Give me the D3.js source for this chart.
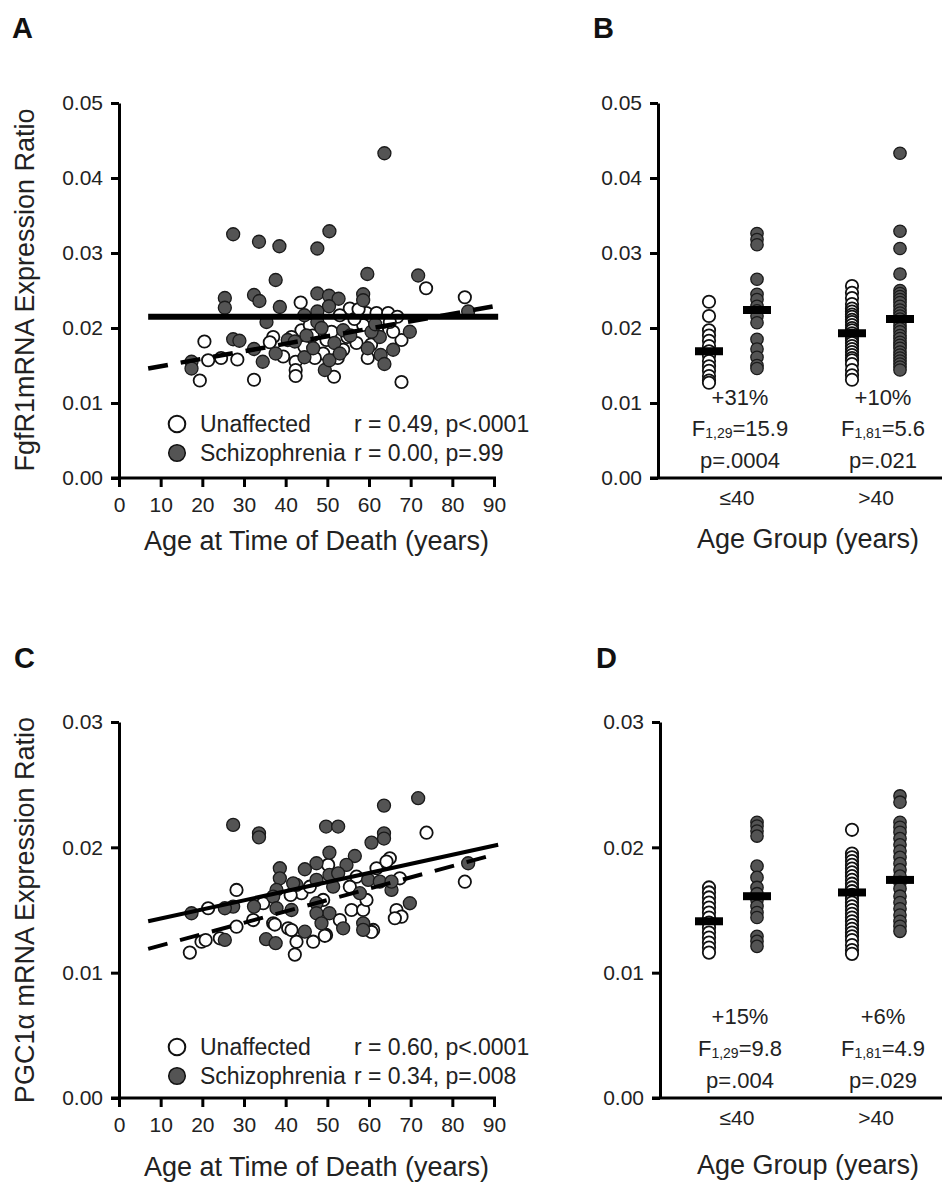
<!DOCTYPE html>
<html><head><meta charset="utf-8">
<script src="https://cdn.jsdelivr.net/npm/d3@7"></script>
<style>
body{margin:0;background:#fff}
svg{display:block}
</style>
</head><body>
<svg id="chart" width="942" height="1186"></svg>
<script>
// ---------------- DATA ----------------
const ageTicks = [0,10,20,30,40,50,60,70,80,90];
const fgfTicks = [0,0.01,0.02,0.03,0.04,0.05];
const pgcTicks = [0,0.01,0.02,0.03];
const seriesNames = ["Unaffected","Schizophrenia"];
const groups = ["≤40", ">40"];

// Panel A: [age, FgfR1 ratio]
const fgfUnaffected = [[73.7,0.0253],[83.0,0.0241],[20.5,0.0182],[21.4,0.0157],[24.5,0.0160],[28.4,0.0158],[19.4,0.0130],[32.4,0.0131],[43.6,0.0234],[37.0,0.0188],[36.2,0.0181],[42.4,0.0155],[42.4,0.0144],[42.4,0.0136],[51.6,0.0135],[67.8,0.0128],[55.4,0.0226],[59.4,0.0220],[61.8,0.0220],[64.6,0.0220],[66.8,0.0215],[59.7,0.0160],[58.6,0.0204],[57.0,0.0180],[67.8,0.0184],[65.8,0.0195],[43.8,0.0197],[45.8,0.0204],[39.4,0.0162],[41.4,0.0188],[53.8,0.0171],[54.8,0.0188],[49.0,0.0166],[49.8,0.0184],[63.4,0.0208],[53.0,0.0217],[46.5,0.0190],[51.0,0.0195],[56.5,0.0212],[62.0,0.0195],[47.0,0.0160],[44.5,0.0175],[60.5,0.0178],[52.5,0.0160],[57.5,0.0225],[65.0,0.0208]];
const fgfSchizo = [[63.7,0.0433],[27.4,0.0325],[33.6,0.0315],[38.5,0.0309],[47.6,0.0306],[50.5,0.0329],[37.6,0.0264],[59.6,0.0272],[71.8,0.0270],[25.4,0.0240],[25.4,0.0227],[32.4,0.0244],[33.7,0.0236],[38.6,0.0228],[35.4,0.0208],[47.6,0.0246],[50.4,0.0243],[52.7,0.0239],[58.6,0.0245],[58.6,0.0237],[50.4,0.0229],[47.6,0.0222],[47.6,0.0208],[44.5,0.0217],[27.4,0.0185],[28.9,0.0183],[32.4,0.0172],[34.5,0.0155],[37.6,0.0166],[40.5,0.0184],[42.2,0.0182],[44.5,0.0161],[46.6,0.0173],[49.4,0.0144],[50.5,0.0157],[51.7,0.0180],[53.0,0.0166],[53.8,0.0197],[48.6,0.0200],[62.6,0.0188],[59.7,0.0173],[62.8,0.0164],[63.7,0.0152],[65.8,0.0171],[69.8,0.0195],[83.8,0.0222],[17.4,0.0155],[17.4,0.0146],[60.6,0.0195],[55.5,0.0190],[45.0,0.0190],[61.5,0.0205]];
const fgfFitUnaffected = [[7,0.0146],[91,0.0230]];
const fgfFitSchizo = [[7,0.0215],[91,0.0215]];
const fgfStats = ["r = 0.49, p<.0001","r = 0.00, p=.99"];

// Panel B: FgfR1 by age group
const fgfLowU = [0.0235,0.0216,0.0197,0.0190,0.0183,0.0176,0.0169,0.0163,0.0156,0.0149,0.0143,0.0136,0.0130,0.0127];
const fgfLowS = [0.0326,0.0318,0.0311,0.0265,0.0245,0.0238,0.0229,0.0223,0.0216,0.0207,0.0185,0.0172,0.0161,0.0150,0.0146];
const fgfHighU = [0.0256,0.0247,0.0240,0.0232,0.0226,0.0222,0.0218,0.0215,0.0211,0.0208,0.0204,0.0200,0.0197,0.0193,0.0190,0.0186,0.0183,0.0180,0.0176,0.0172,0.0168,0.0164,0.0160,0.0157,0.0152,0.0144,0.0137,0.0131];
const fgfHighS = [0.0433,0.0329,0.0306,0.0272,0.0250,0.0246,0.0242,0.0238,0.0234,0.0229,0.0224,0.0220,0.0216,0.0212,0.0208,0.0203,0.0199,0.0195,0.0190,0.0186,0.0181,0.0177,0.0173,0.0168,0.0164,0.0160,0.0156,0.0152,0.0148,0.0144];
const fgfMeansU = [0.0169,0.0193];
const fgfMeansS = [0.0224,0.0212];
const fgfPct = ["+31%","+10%"];
const fgfDf = ["1,29","1,81"];
const fgfF = ["15.9","5.6"];
const fgfP = ["p=.0004","p=.021"];

// Panel C: [age, PGC1a ratio]
const pgcUnaffected = [[73.8,0.02117],[83.0,0.01726],[65.0,0.01913],[67.4,0.01753],[66.6,0.0150],[67.8,0.01447],[66.2,0.01434],[28.2,0.0166],[21.4,0.01514],[19.8,0.01247],[17.0,0.0116],[28.2,0.01367],[24.2,0.01274],[32.2,0.0142],[37.0,0.01394],[40.6,0.01354],[42.6,0.01247],[46.6,0.01247],[49.7,0.01301],[53.0,0.0142],[55.8,0.0150],[58.6,0.0150],[61.0,0.01341],[34.6,0.01554],[43.8,0.01634],[50.2,0.0186],[57.0,0.01766],[61.8,0.01833],[64.2,0.01886],[55.4,0.01686],[45.8,0.01686],[41.2,0.0162],[49.0,0.0158],[59.4,0.0158],[42.2,0.01144],[49.4,0.01294],[60.6,0.01325],[41.4,0.0134],[37.4,0.01384],[20.8,0.0126]];
const pgcSchizo = [[71.8,0.02392],[63.6,0.02333],[27.4,0.02179],[33.6,0.02112],[33.6,0.0208],[49.7,0.02166],[52.6,0.02166],[63.6,0.02112],[63.6,0.0207],[60.6,0.02038],[83.8,0.01873],[50.5,0.01958],[56.6,0.01931],[54.6,0.0186],[47.4,0.01873],[44.6,0.01825],[38.6,0.01833],[38.6,0.01753],[42.6,0.017],[47.4,0.0174],[50.5,0.0178],[52.6,0.01793],[51.4,0.01686],[59.8,0.0174],[62.6,0.01726],[65.4,0.0166],[65.4,0.01726],[57.8,0.01634],[37.8,0.0166],[37.0,0.01607],[37.8,0.01514],[41.4,0.015],[47.4,0.01554],[50.5,0.01474],[47.4,0.01474],[32.4,0.01527],[27.4,0.01527],[25.4,0.01514],[17.4,0.01474],[69.8,0.01554],[48.6,0.01394],[53.8,0.01354],[58.6,0.01394],[58.6,0.01341],[44.6,0.01327],[35.3,0.01267],[37.6,0.01235],[25.4,0.01261],[41.8,0.01713]];
const pgcFitUnaffected = [[7,0.0119],[91,0.0195]];
const pgcFitSchizo = [[7,0.0141],[91,0.0202]];
const pgcStats = ["r = 0.60, p<.0001","r = 0.34, p=.008"];

// Panel D: PGC1a by age group
const pgcLowU = [0.0168,0.0164,0.0160,0.0156,0.0152,0.0148,0.0144,0.0140,0.0136,0.0132,0.0128,0.0124,0.0120,0.0116];
const pgcLowS = [0.0220,0.0217,0.0213,0.0209,0.0185,0.0176,0.0168,0.0163,0.0158,0.0153,0.0148,0.0144,0.0129,0.0125,0.0121];
const pgcHighU = [0.0214,0.0195,0.0192,0.0189,0.0186,0.0183,0.0180,0.0177,0.0174,0.0171,0.0168,0.0165,0.0162,0.0159,0.0156,0.0153,0.0150,0.0147,0.0144,0.0141,0.0138,0.0135,0.0132,0.0129,0.0126,0.0122,0.0118,0.0115];
const pgcHighS = [0.0241,0.0236,0.0220,0.0216,0.0212,0.0207,0.0202,0.0197,0.0192,0.0187,0.0182,0.0177,0.0172,0.0167,0.0161,0.0156,0.0151,0.0146,0.0141,0.0137,0.0133];
const pgcMeansU = [0.0141,0.0164];
const pgcMeansS = [0.0161,0.0174];
const pgcPct = ["+15%","+6%"];
const pgcDf = ["1,29","1,81"];
const pgcF = ["9.8","4.9"];
const pgcP = ["p=.004","p=.029"];

// ---------------- DRAWING ----------------
const FONT = '"Liberation Sans", Arial, Helvetica, sans-serif';
const TXT = "#222";
const DARK = "#545454";
const svg = d3.select("#chart").attr("font-family", FONT);

function styleAxis(g){
  g.select(".domain").attr("stroke","#000").attr("stroke-width",3);
  g.selectAll(".tick line").attr("stroke","#000").attr("stroke-width",3);
  g.selectAll(".tick text").attr("font-size",21).attr("font-family",FONT).attr("fill",TXT);
}

function panelLabel(txt, x, y){
  svg.append("text").attr("x",x).attr("y",y).attr("font-size",29).attr("font-weight","bold")
    .attr("fill","#111").text(txt);
}

function yTitle(txt, x, yc){
  svg.append("text").attr("transform",`translate(${x},${yc}) rotate(-90)`)
    .attr("text-anchor","middle").attr("font-size",27).attr("fill",TXT).text(txt);
}

function scatterPanel(o){
  const x = d3.scaleLinear().domain([0,90]).range([o.left,o.right]);
  const y = d3.scaleLinear().domain([0,o.ymax]).range([o.bottom,o.top]);
  const g = svg.append("g");
  g.append("g").selectAll("circle").data(o.unaffected).join("circle")
    .attr("cx",d=>x(d[0])).attr("cy",d=>y(d[1])).attr("r",6.2)
    .attr("fill","#fff").attr("stroke","#111").attr("stroke-width",1.8);
  g.append("g").selectAll("circle").data(o.schizo).join("circle")
    .attr("cx",d=>x(d[0])).attr("cy",d=>y(d[1])).attr("r",6.5)
    .attr("fill",DARK).attr("stroke","#1a1a1a").attr("stroke-width",1.3);
  const line = d3.line().x(d=>x(d[0])).y(d=>y(d[1]));
  g.append("path").attr("d",line(o.fitU)).attr("fill","none").attr("stroke","#000")
    .attr("stroke-width",o.dashW).attr("stroke-dasharray","20,13");
  g.append("path").attr("d",line(o.fitS)).attr("fill","none").attr("stroke","#000")
    .attr("stroke-width",o.solidW);
  const ya = svg.append("g").attr("transform",`translate(${o.left},0)`)
    .call(d3.axisLeft(y).tickValues(o.ticks).tickFormat(d3.format(".2f")).tickSize(8).tickSizeOuter(0).tickPadding(8));
  styleAxis(ya);
  const xa = svg.append("g").attr("transform",`translate(0,${o.bottom})`)
    .call(d3.axisBottom(x).tickValues(ageTicks).tickFormat(d3.format("d")).tickSize(9).tickSizeOuter(0).tickPadding(10));
  styleAxis(xa);
  xa.select(".domain").attr("d",`M${o.left-8},0H${o.right+2}`);
  svg.append("text").attr("x",(o.left+o.right)/2+10).attr("y",o.bottom+o.titleDy)
    .attr("text-anchor","middle").attr("font-size",27).attr("fill",TXT).text("Age at Time of Death (years)");
  const leg = svg.append("g");
  seriesNames.forEach((s,i)=>{
    const cy = o.legY[i];
    leg.append("circle").attr("cx",177).attr("cy",cy).attr("r",8.3)
      .attr("fill",i===0?"#fff":DARK).attr("stroke","#111").attr("stroke-width",i===0?2:1.5);
    leg.append("text").attr("x",200).attr("y",cy+8).attr("font-size",23).attr("fill",TXT).text(s);
    leg.append("text").attr("x",354).attr("y",cy+8).attr("font-size",23).attr("fill",TXT).text(o.stats[i]);
  });
}

function groupPanel(o){
  const gx = d3.scalePoint().domain(groups).range([733,876]);
  const sx = d3.scalePoint().domain(seriesNames).range([-24,24]);
  const y = d3.scaleLinear().domain([0,o.ymax]).range([o.bottom,o.top]);
  const g = svg.append("g");
  const cols = [
    {grp:groups[0], s:seriesNames[0], vals:o.lowU},
    {grp:groups[0], s:seriesNames[1], vals:o.lowS},
    {grp:groups[1], s:seriesNames[0], vals:o.highU},
    {grp:groups[1], s:seriesNames[1], vals:o.highS}
  ];
  cols.forEach(c=>{
    const cx = gx(c.grp)+sx(c.s);
    g.append("g").selectAll("circle").data(c.vals).join("circle")
      .attr("cx",cx).attr("cy",d=>y(d)).attr("r",6.2)
      .attr("fill",c.s===seriesNames[0]?"#fff":DARK)
      .attr("stroke",c.s===seriesNames[0]?"#111":"#1a1a1a")
      .attr("stroke-width",c.s===seriesNames[0]?1.8:1.3);
  });
  groups.forEach((grp,i)=>{
    [[seriesNames[0],o.meansU[i]],[seriesNames[1],o.meansS[i]]].forEach(([s,m])=>{
      g.append("rect").attr("x",gx(grp)+sx(s)-14).attr("y",y(m)-4).attr("width",28).attr("height",8).attr("fill","#000");
    });
    const tx = gx(grp)+7;
    g.append("text").attr("x",tx).attr("y",o.annY[0]).attr("text-anchor","middle").attr("font-size",22).attr("fill",TXT).text(o.pct[i]);
    const ft = g.append("text").attr("x",tx).attr("y",o.annY[1]).attr("text-anchor","middle").attr("font-size",22).attr("fill",TXT);
    ft.append("tspan").text("F");
    ft.append("tspan").attr("font-size",14).attr("dy",2).text(o.df[i]);
    ft.append("tspan").attr("dy",-2).text("="+o.F[i]);
    g.append("text").attr("x",tx).attr("y",o.annY[2]).attr("text-anchor","middle").attr("font-size",22).attr("fill",TXT).text(o.p[i]);
    g.append("text").attr("x",gx(grp)+(i===0?4:0)).attr("y",o.bottom+27).attr("text-anchor","middle").attr("font-size",21).attr("fill",TXT).text(grp);
  });
  const ya = svg.append("g").attr("transform",`translate(${o.left},0)`)
    .call(d3.axisLeft(y).tickValues(o.ticks).tickFormat(d3.format(".2f")).tickSize(8).tickSizeOuter(0).tickPadding(8));
  styleAxis(ya);
  svg.append("line").attr("x1",o.left-8).attr("x2",942).attr("y1",o.bottom).attr("y2",o.bottom)
    .attr("stroke","#000").attr("stroke-width",3);
  svg.append("text").attr("x",808).attr("y",o.bottom+o.titleDy).attr("text-anchor","middle")
    .attr("font-size",27).attr("fill",TXT).text("Age Group (years)");
}

scatterPanel({left:119,right:494,top:103,bottom:478,ymax:0.05,ticks:fgfTicks,
  unaffected:fgfUnaffected,schizo:fgfSchizo,fitU:fgfFitUnaffected,fitS:fgfFitSchizo,
  dashW:4.5,solidW:6,stats:fgfStats,legY:[424,453],titleDy:72});
groupPanel({left:658,top:103,bottom:478,ymax:0.05,ticks:fgfTicks,
  lowU:fgfLowU,lowS:fgfLowS,highU:fgfHighU,highS:fgfHighS,meansU:fgfMeansU,meansS:fgfMeansS,
  pct:fgfPct,df:fgfDf,F:fgfF,p:fgfP,annY:[405,436,468],titleDy:70});
scatterPanel({left:119,right:494,top:722,bottom:1098,ymax:0.03,ticks:pgcTicks,
  unaffected:pgcUnaffected,schizo:pgcSchizo,fitU:pgcFitUnaffected,fitS:pgcFitSchizo,
  dashW:4,solidW:4,stats:pgcStats,legY:[1047,1076],titleDy:78});
groupPanel({left:660,top:722,bottom:1098,ymax:0.03,ticks:pgcTicks,
  lowU:pgcLowU,lowS:pgcLowS,highU:pgcHighU,highS:pgcHighS,meansU:pgcMeansU,meansS:pgcMeansS,
  pct:pgcPct,df:pgcDf,F:pgcF,p:pgcP,annY:[1024,1056,1088],titleDy:76});

panelLabel("A",12,38);
panelLabel("B",593,38);
panelLabel("C",14,668);
panelLabel("D",596,668);
yTitle("FgfR1mRNA Expression Ratio",34,290);
yTitle("PGC1\u03b1 mRNA Expression Ratio",34,910);
</script>
</body></html>
